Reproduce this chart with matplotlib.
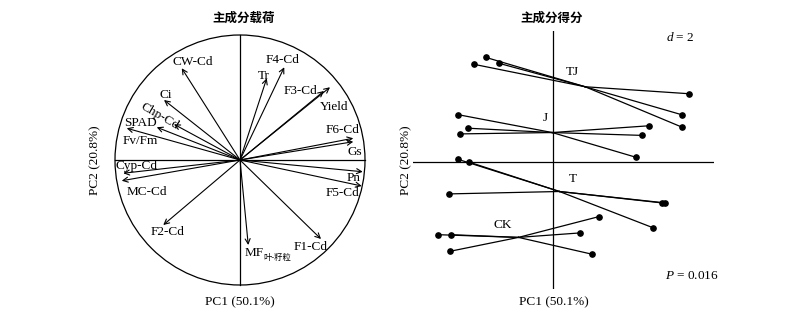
import numpy as np
import matplotlib.pyplot as plt
from matplotlib.patches import Circle

plt.rcParams['font.family'] = ['Liberation Serif', 'Noto Sans CJK SC']
plt.rcParams['mathtext.fontset'] = 'custom'
plt.rcParams['mathtext.it'] = 'Liberation Serif:italic'
plt.rcParams['mathtext.rm'] = 'Liberation Serif'

# loadings (PC1, PC2), scaled to the unit circle
var_names = ['CW-Cd', 'Tr', 'F4-Cd', 'F3-Cd', 'Yield', 'Ci', 'Chp-Cd', 'SPAD',
             'Fv/Fm', 'F6-Cd', 'Gs', 'Cyp-Cd', 'MC-Cd', 'Pn', 'F5-Cd', 'F2-Cd',
             'MF', 'F1-Cd']
load_pc1 = [-0.466, 0.214, 0.354, 0.720, 0.672, -0.608, -0.528, -0.666,
            -0.906, 0.906, 0.906, -0.934, -0.946, 0.982, 0.974, -0.614,
            0.066, 0.648]
load_pc2 = [0.734, 0.654, 0.742, 0.582, 0.552, 0.480, 0.286, 0.262,
            0.254, 0.174, 0.146, -0.106, -0.166, -0.094, -0.208, -0.520,
            -0.680, -0.632]
label_x = [-0.378, 0.190, 0.338, 0.480, 0.752, -0.592, -0.640, -0.800,
           -0.800, 0.822, 0.920, -0.832, -0.746, 0.906, 0.822, -0.582,
           0.034, 0.566]
label_y = [0.786, 0.672, 0.800, 0.554, 0.424, 0.520, 0.352, 0.296,
           0.152, 0.240, 0.064, -0.048, -0.254, -0.142, -0.266, -0.574,
           -0.746, -0.696]

# scores per group (PC1, PC2)
groups = ['TJ', 'J', 'T', 'CK']
score_pc1 = {
    'TJ': [-2.25, -1.80, -2.65, 4.51, 4.28, 4.28],
    'J': [-3.17, -2.85, -3.10, 3.18, 2.97, 2.76],
    'T': [-3.17, -2.81, -3.47, 3.62, 3.73, 3.33],
    'CK': [-3.83, -3.41, -3.43, 1.51, 0.90, 1.29],
}
score_pc2 = {
    'TJ': [3.48, 3.28, 3.25, 2.27, 1.57, 1.16],
    'J': [1.57, 1.12, 0.93, 1.20, 0.88, 0.15],
    'T': [0.08, -0.01, -1.07, -1.37, -1.37, -2.20],
    'CK': [-2.43, -2.43, -2.98, -1.83, -2.37, -3.08],
}
group_label_xy = {'TJ': (0.63, 3.00), 'J': (-0.28, 1.45),
                  'T': (0.65, -0.58), 'CK': (-1.70, -2.11)}

fig = plt.figure(figsize=(8, 3.19), dpi=100)
W, H = 800, 319
fs = 9.5

# ---- left: loadings
ax1 = fig.add_axes([102.5 / W, (H - 297.5) / H, 275 / W, 275 / H])
ax1.set_xlim(-1.1, 1.1)
ax1.set_ylim(-1.1, 1.1)
ax1.set_axis_off()
ax1.add_patch(Circle((0, 0), 1.0, fill=False, lw=0.9, color='black'))
ax1.plot([-1, 1], [0, 0], color='black', lw=0.9)
ax1.plot([0, 0], [-1, 1], color='black', lw=0.9)
for name, x, y, lx, ly in zip(var_names, load_pc1, load_pc2, label_x, label_y):
    ax1.annotate('', xy=(x, y), xytext=(0, 0),
                 arrowprops=dict(arrowstyle='->', lw=0.8, color='black',
                                 shrinkA=0, shrinkB=0,
                                 mutation_scale=9))
    if name == 'MF':
        ax1.text(lx, ly, 'MF', fontsize=fs, ha='left', va='center')
        ax1.text(lx + 0.155, ly - 0.035, '叶-籽粒', fontsize=6,
                 ha='left', va='center')
    elif name == 'Chp-Cd':
        ax1.text(lx, ly, name, fontsize=fs, ha='center', va='center',
                 rotation=-30)
    else:
        ax1.text(lx, ly, name, fontsize=fs, ha='center', va='center')

# ---- right: scores
ax2 = fig.add_axes([413 / W, (H - 289) / H, 301 / W, 258.3 / H])
ax2.set_xlim(-4.68, 5.36)
ax2.set_ylim(-4.24, 4.37)
ax2.set_axis_off()
ax2.axhline(0, color='black', lw=0.9)
ax2.axvline(0, color='black', lw=0.9)
for g in groups:
    xs = np.array(score_pc1[g])
    ys = np.array(score_pc2[g])
    cx, cy = xs.mean(), ys.mean()
    for x, y in zip(xs, ys):
        ax2.plot([cx, x], [cy, y], color='black', lw=0.9)
    ax2.plot(xs, ys, 'o', color='black', markersize=3.8)
    ax2.text(*group_label_xy[g], g, fontsize=fs, ha='center', va='center')
ax2.text(4.22, 4.14, r'$d$ = 2', fontsize=fs, ha='center', va='center')
ax2.text(4.62, -3.81, r'$P$ = 0.016', fontsize=fs, ha='center',
         va='center')

# titles and axis labels
fig.text(243.5 / W, 1 - 18 / H, '主成分载荷', fontsize=9, fontweight='bold',
         ha='center', va='center', family='Noto Sans CJK SC')
fig.text(552 / W, 1 - 18 / H, '主成分得分', fontsize=9, fontweight='bold',
         ha='center', va='center', family='Noto Sans CJK SC')
fig.text(240 / W, 1 - 302.7 / H, 'PC1 (50.1%)', fontsize=fs,
         ha='center', va='center')
fig.text(554 / W, 1 - 302.7 / H, 'PC1 (50.1%)', fontsize=fs,
         ha='center', va='center')
fig.text(95 / W, 1 - 160 / H, 'PC2 (20.8%)', fontsize=fs,
         ha='center', va='center', rotation=90)
fig.text(406 / W, 1 - 160 / H, 'PC2 (20.8%)', fontsize=fs,
         ha='center', va='center', rotation=90)

fig.savefig('out.png', dpi=100)
